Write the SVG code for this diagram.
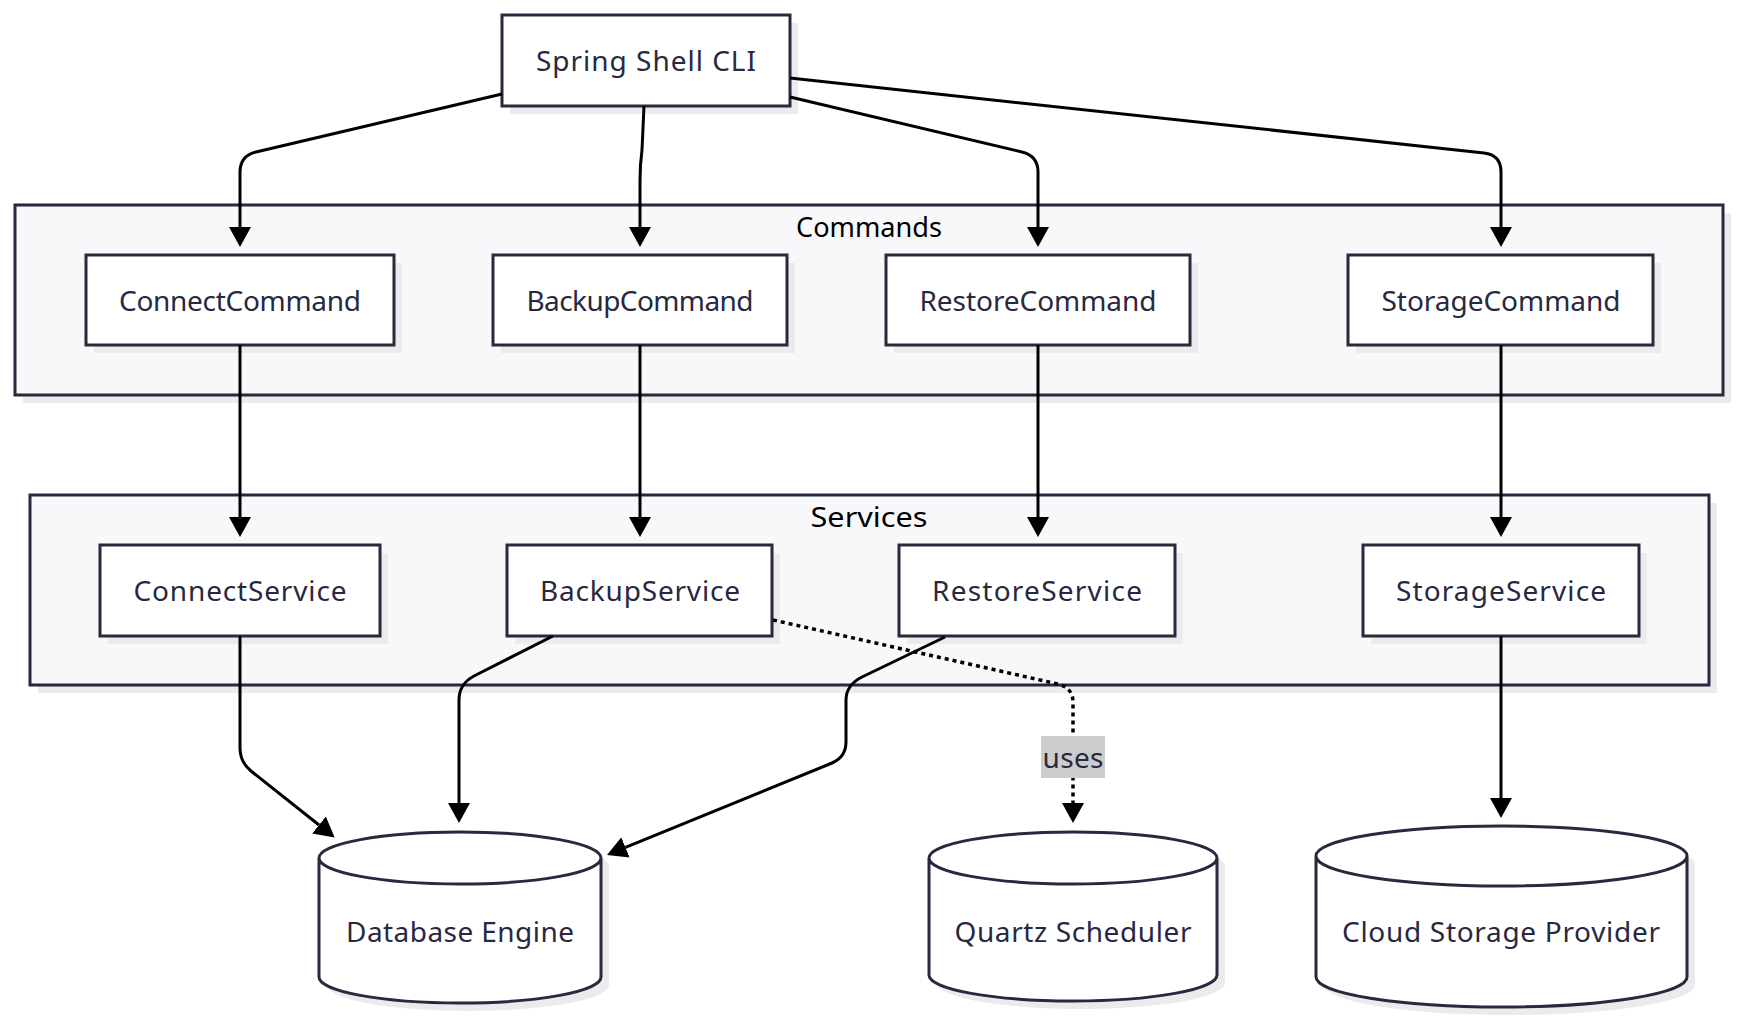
<svg xmlns="http://www.w3.org/2000/svg" width="1740" height="1023" viewBox="0 0 1740 1023">
<style>
.bg{fill:#ffffff}
.shadow{fill:#ebebeb}
.cluster{fill:#f8f8fb;stroke:#28283f;stroke-width:3}
.node{fill:#ffffff;stroke:#28283f;stroke-width:3}
.ntext{font-family:"Noto Sans","Open Sans",sans-serif;font-size:28px;fill:#28283f;text-anchor:middle;dominant-baseline:central}
.ctext{font-family:"Noto Sans","Open Sans",sans-serif;font-size:27px;fill:#000000;text-anchor:middle;dominant-baseline:central}
.edge{fill:none;stroke:#000000;stroke-width:3}
.dotted{stroke-dasharray:4 4;stroke-width:3.5}
.lbl{fill:#cccccc}
</style>
<defs>
<marker id="arrow" markerUnits="userSpaceOnUse" markerWidth="22" markerHeight="24" refX="0" refY="12" orient="auto">
<path d="M0,1 L20,12 L0,23 z" fill="#000000"/>
</marker>
</defs>
<rect class="bg" x="0" y="0" width="1740" height="1023"/>

<g id="cluster-commands">
<rect class="shadow" x="23" y="213" width="1708" height="190"/>
<rect class="cluster" x="15" y="205" width="1708" height="190"/>
<text class="ctext" x="869" y="226" textLength="146" lengthAdjust="spacingAndGlyphs">Commands</text>
</g>
<g id="cluster-services">
<rect class="shadow" x="38" y="503" width="1679" height="190"/>
<rect class="cluster" x="30" y="495" width="1679" height="190"/>
<text class="ctext" x="869" y="516" textLength="117" lengthAdjust="spacingAndGlyphs">Services</text>
</g>

<g id="node-cli">
<rect class="shadow" x="510" y="23" width="288" height="91"/>
<rect class="node" x="502" y="15" width="288" height="91"/>
<text class="ntext" x="646" y="60" textLength="220" lengthAdjust="spacing">Spring Shell CLI</text>
</g>
<g id="node-connectcommand">
<rect class="shadow" x="94" y="263" width="308" height="90"/>
<rect class="node" x="86" y="255" width="308" height="90"/>
<text class="ntext" x="240" y="300" textLength="242" lengthAdjust="spacing">ConnectCommand</text>
</g>
<g id="node-backupcommand">
<rect class="shadow" x="501" y="263" width="294" height="90"/>
<rect class="node" x="493" y="255" width="294" height="90"/>
<text class="ntext" x="640" y="300" textLength="227" lengthAdjust="spacing">BackupCommand</text>
</g>
<g id="node-restorecommand">
<rect class="shadow" x="894" y="263" width="304" height="90"/>
<rect class="node" x="886" y="255" width="304" height="90"/>
<text class="ntext" x="1038" y="300" textLength="237" lengthAdjust="spacing">RestoreCommand</text>
</g>
<g id="node-storagecommand">
<rect class="shadow" x="1356" y="263" width="305" height="90"/>
<rect class="node" x="1348" y="255" width="305" height="90"/>
<text class="ntext" x="1501" y="300" textLength="239" lengthAdjust="spacing">StorageCommand</text>
</g>

<g id="node-connectservice">
<rect class="shadow" x="108" y="553" width="280" height="91"/>
<rect class="node" x="100" y="545" width="280" height="91"/>
<text class="ntext" x="240" y="590" textLength="213" lengthAdjust="spacing">ConnectService</text>
</g>
<g id="node-backupservice">
<rect class="shadow" x="515" y="553" width="265" height="91"/>
<rect class="node" x="507" y="545" width="265" height="91"/>
<text class="ntext" x="640" y="590" textLength="200" lengthAdjust="spacing">BackupService</text>
</g>
<g id="node-restoreservice">
<rect class="shadow" x="907" y="553" width="276" height="91"/>
<rect class="node" x="899" y="545" width="276" height="91"/>
<text class="ntext" x="1037" y="590" textLength="210" lengthAdjust="spacing">RestoreService</text>
</g>
<g id="node-storageservice">
<rect class="shadow" x="1371" y="553" width="276" height="91"/>
<rect class="node" x="1363" y="545" width="276" height="91"/>
<text class="ntext" x="1501" y="590" textLength="210" lengthAdjust="spacing">StorageService</text>
</g>

<g id="node-database">
<path class="shadow" d="M327,866 a141,26 0 0,0 282,0 a141,26 0 0,0 -282,0 l0,119 a141,26 0 0,0 282,0 l0,-119"/>
<path class="node" d="M319,858 a141,26 0 0,0 282,0 a141,26 0 0,0 -282,0 l0,119 a141,26 0 0,0 282,0 l0,-119"/>
<text class="ntext" x="460" y="931" textLength="228" lengthAdjust="spacing">Database Engine</text>
</g>
<g id="node-quartz">
<path class="shadow" d="M937,866 a144,26 0 0,0 288,0 a144,26 0 0,0 -288,0 l0,117 a144,26 0 0,0 288,0 l0,-117"/>
<path class="node" d="M929,858 a144,26 0 0,0 288,0 a144,26 0 0,0 -288,0 l0,117 a144,26 0 0,0 288,0 l0,-117"/>
<text class="ntext" x="1073" y="931" textLength="237" lengthAdjust="spacing">Quartz Scheduler</text>
</g>
<g id="node-cloud">
<path class="shadow" d="M1324,864 a185.5,30 0 0,0 371,0 a185.5,30 0 0,0 -371,0 l0,121 a185.5,30 0 0,0 371,0 l0,-121"/>
<path class="node" d="M1316,856 a185.5,30 0 0,0 371,0 a185.5,30 0 0,0 -371,0 l0,121 a185.5,30 0 0,0 371,0 l0,-121"/>
<text class="ntext" x="1501" y="931" textLength="318" lengthAdjust="spacing">Cloud Storage Provider</text>
</g>

<g id="connectors">
<path class="edge" d="M502,94 L256,152 Q240,156 240,172 L240,227" marker-end="url(#arrow)"/>
<path class="edge" d="M644,106 L642,150 Q640,165 640,180 L640,227" marker-end="url(#arrow)"/>
<path class="edge" d="M790,97 L1022,152 Q1038,156 1038,172 L1038,227" marker-end="url(#arrow)"/>
<path class="edge" d="M790,78 L1484,153 Q1501,155 1501,172 L1501,227" marker-end="url(#arrow)"/>
<path class="edge" d="M240,345 L240,517" marker-end="url(#arrow)"/>
<path class="edge" d="M640,345 L640,517" marker-end="url(#arrow)"/>
<path class="edge" d="M1038,345 L1038,517" marker-end="url(#arrow)"/>
<path class="edge" d="M1501,345 L1501,517" marker-end="url(#arrow)"/>
<path class="edge" d="M240,636 L240,748 Q240,762 251,771 L319,825" marker-end="url(#arrow)"/>
<path class="edge" d="M553,636 L474,676 Q459,684 459,700 L459,803" marker-end="url(#arrow)"/>
<path class="edge" d="M945,637 L862,677 Q846,685 846,700 L846,742 Q846,757 832,763 L625.5,847.4" marker-end="url(#arrow)"/>
<path class="edge dotted" d="M773,620 L1058,684 Q1073,688 1073,702 L1073,803" marker-end="url(#arrow)"/>
<path class="edge" d="M1501,636 L1501,798" marker-end="url(#arrow)"/>
<g id="edge-label-uses">
<rect class="lbl" x="1041" y="736" width="64" height="42"/>
<text class="ntext" x="1073" y="757" textLength="61" lengthAdjust="spacing">uses</text>
</g>
</g>
</svg>
